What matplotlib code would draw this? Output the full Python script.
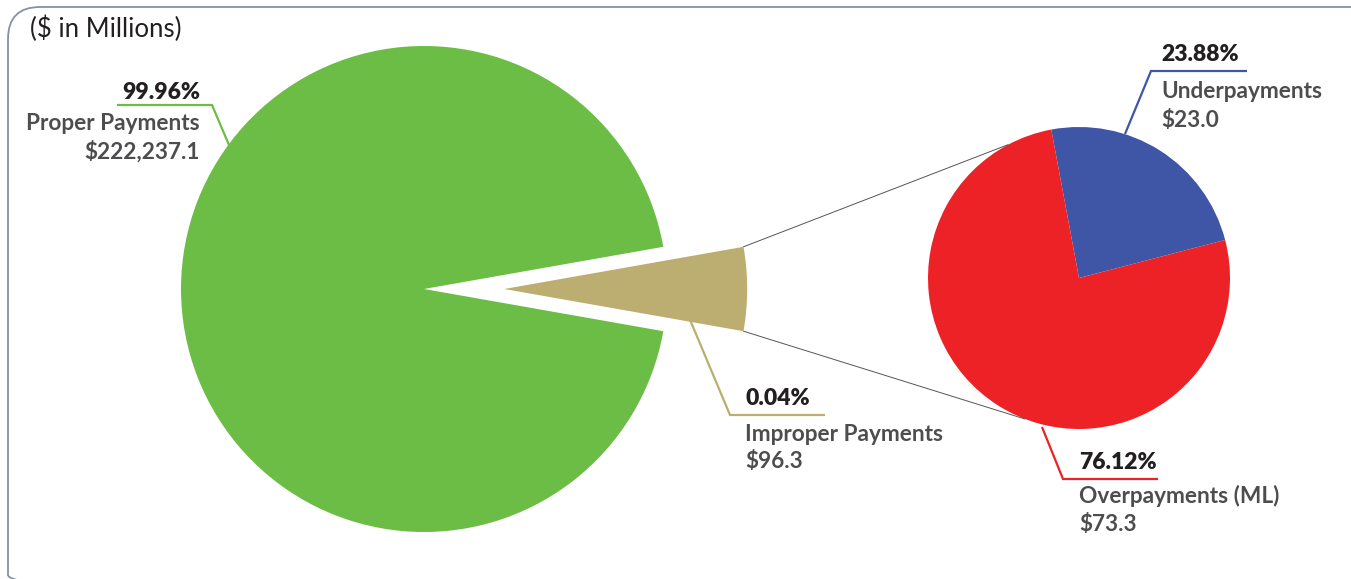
import matplotlib
matplotlib.use("Agg")
import matplotlib.pyplot as plt
from matplotlib.patches import FancyBboxPatch, ConnectionPatch
import numpy as np

plt.rcParams['font.family'] = ['Lato', 'DejaVu Sans']

# ---- data ----
main_labels = ["Proper Payments", "Improper Payments"]
main_values = [222237.1, 96.3]
sub_labels = ["Underpayments", "Overpayments (ML)"]
sub_values = [23.0, 73.3]
unit_note = "($ in Millions)"

# ---- style ----
W, H = 1351, 579
C_GREEN = "#6cbd45"
C_BEIGE = "#bbae70"
C_BLUE = "#3f55a5"
C_RED = "#ec2227"
C_PCT = "#231f20"
C_LBL = "#4d4d4f"
IMPROPER_DISPLAY_ANGLE = 20.0   # exaggerated slice for visibility
EXPLODE = 0.33
SUB_START = 14.6

fig = plt.figure(figsize=(W / 100, H / 100), dpi=100)
bg = fig.add_axes([0, 0, 1, 1])
bg.set_xlim(0, W)
bg.set_ylim(H, 0)
bg.axis("off")

# rounded border
border = FancyBboxPatch((8, 7), 1380, 600, boxstyle="round,pad=0,rounding_size=32",
                        fill=False, ec="#8a8fa6", lw=1.3)
bg.add_patch(border)

def axes_for(cx, cy, r):
    # cx, cy in image pixel coords (y down)
    return fig.add_axes([(cx - r) / W, (H - cy - r) / H, 2 * r / W, 2 * r / H])

# main pie
ax1 = axes_for(424, 289, 243)
disp = [360 - IMPROPER_DISPLAY_ANGLE, IMPROPER_DISPLAY_ANGLE]
ax1.pie(disp, colors=[C_GREEN, C_BEIGE], startangle=IMPROPER_DISPLAY_ANGLE / 2,
        counterclock=True, explode=[0, EXPLODE], radius=1,
        wedgeprops=dict(linewidth=0))
ax1.set_xlim(-1, 1); ax1.set_ylim(-1, 1); ax1.axis("off")

# sub pie
ax2 = axes_for(1079, 278, 151)
ax2.pie(sub_values, colors=[C_BLUE, C_RED], startangle=SUB_START,
        counterclock=True, radius=1, wedgeprops=dict(linewidth=0))
ax2.set_xlim(-1, 1); ax2.set_ylim(-1, 1); ax2.axis("off")

# connectors between beige wedge and sub pie
half = np.deg2rad(IMPROPER_DISPLAY_ANGLE / 2)
top_corner = (EXPLODE + np.cos(half), np.sin(half))
bot_corner = (EXPLODE + np.cos(half), -np.sin(half))
a_top, a_bot = np.deg2rad(118), np.deg2rad(249)
for p1, p2 in [(top_corner, (np.cos(a_top), np.sin(a_top))),
               (bot_corner, (np.cos(a_bot), np.sin(a_bot)))]:
    cp = ConnectionPatch(xyA=p1, coordsA=ax1.transData, xyB=p2, coordsB=ax2.transData,
                         color="#555555", lw=0.7)
    fig.add_artist(cp)

total = sum(main_values)
sub_total = sum(sub_values)
main_pct = [v / total * 100 for v in main_values]
sub_pct = [v / sub_total * 100 for v in sub_values]

FS_PCT = 16.5
FS_LBL = 16.3

def money(v):
    return "${:,.1f}".format(v)

def label_block(x, ybase, pct, name, val, ha, color, line_pts, d1, d2):
    bg.plot([p[0] for p in line_pts], [p[1] for p in line_pts], color=color, lw=1.6,
            solid_capstyle="butt", solid_joinstyle="miter")
    bg.text(x, ybase, "{:.2f}%".format(pct), ha=ha, va="baseline", fontsize=FS_PCT,
            fontweight="heavy", color=C_PCT)
    bg.text(x, ybase + d1, name, ha=ha, va="baseline", fontsize=FS_LBL,
            fontweight="bold", color=C_LBL)
    bg.text(x, ybase + d2, money(val), ha=ha, va="baseline", fontsize=FS_LBL,
            fontweight="bold", color=C_LBL)

label_block(200, 99, main_pct[0], main_labels[0], main_values[0], "right", C_GREEN,
            [(229, 145), (212, 105), (117, 105)], 31, 60)
label_block(745, 405, main_pct[1], main_labels[1], main_values[1], "left", C_BEIGE,
            [(688, 315), (730, 415), (825, 415)], 36, 63)
label_block(1161, 61, sub_pct[0], sub_labels[0], sub_values[0], "left", C_BLUE,
            [(1125, 134), (1151, 71), (1247, 71)], 37, 66)
label_block(1079, 469, sub_pct[1], sub_labels[1], sub_values[1], "left", C_RED,
            [(1042, 427), (1063, 479), (1158, 479)], 34, 62)

bg.text(30, 37, unit_note, ha="left", va="baseline", fontsize=18.5, color=C_PCT)

fig.savefig("out.png", dpi=100)
